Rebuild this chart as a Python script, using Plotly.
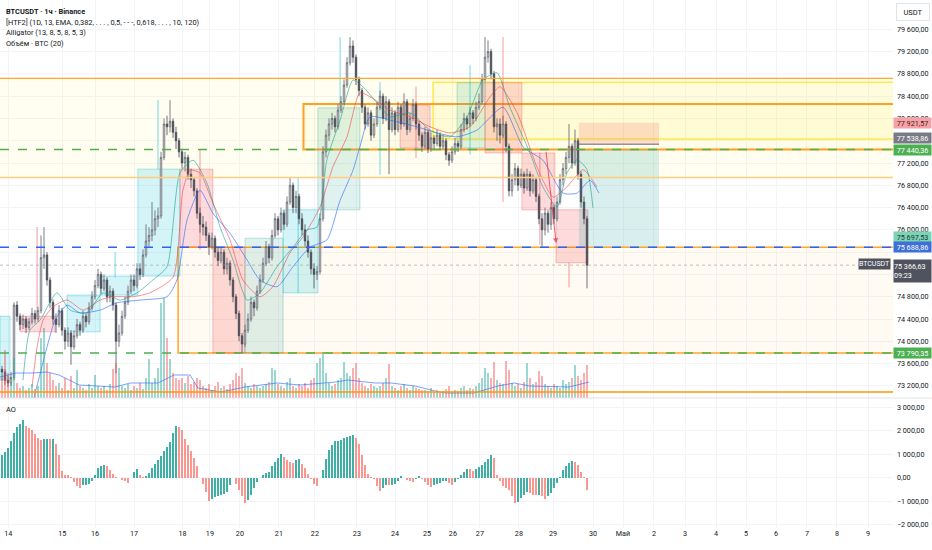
import plotly.graph_objects as go

# ---------------- data ----------------
first_open = 73500
closes = [
    73450, 73300, 73250, 73350, 74650, 74450, 74300, 74400, 74250, 74350,
    74500, 74400, 74550, 75500, 75550, 75100, 74700, 74400, 74300, 74550,
    74200, 74000, 74150, 73900, 74100, 74300, 74200, 74450, 74350, 74600,
    74800, 75000, 75200, 74950, 75100, 74800, 74900, 74650, 74000, 74150,
    74450, 74700, 74900, 75100, 75000, 75300, 75200, 75550, 75800, 75900,
    76000, 76200, 76250, 77300, 77900, 77850, 77950, 77750, 77600, 77400,
    77200, 77300, 77000, 76900, 76700, 76300, 76100, 76050, 75900, 75700,
    75850, 75600, 75450, 75600, 75300, 75400, 75100, 74800, 74500, 74100,
    73950, 74200, 74400, 74700, 74600, 74900, 75100, 75400, 75700, 75500,
    75900, 76200, 76000, 76300, 76100, 76500, 76800, 76400, 76600, 76200,
    76000, 75800, 75600, 75300, 75200, 75250, 76200, 77400, 77700, 77900,
    78000, 77850, 78150, 78300, 78600, 79000, 79300, 79100, 78700, 78500,
    78200, 77900, 78100, 77700, 77900, 78200, 78400, 78000, 78300, 77800,
    78100, 77800, 78200, 77900, 78300, 77800, 78000, 78250, 77900, 77700,
    77500, 77750, 77450, 77650, 77550, 77700, 77500, 77600, 77350, 77250,
    77400, 77550, 77500, 77800, 78000, 77900, 78100, 78000, 78200, 78300,
    78700, 79100, 79200, 78800, 77850, 77900, 77700, 77900, 77500, 76700,
    76900, 77100, 76800, 77000, 76750, 77000, 76700, 76900, 76600, 76200,
    76000, 76300, 76100, 76400, 76200, 76500, 76900, 77100, 77300, 77500,
    77200, 77600, 77000, 76500, 76200, 75366.63,
]
highs = [
    73560, 73500, 73380, 73450, 74700, 74720, 74500, 74480, 74450, 74420,
    74600, 74560, 74620, 75900, 76050, 75600, 75150, 74750, 74500, 74650,
    74600, 74250, 74250, 74200, 74200, 74400, 74350, 74550, 74500, 74700,
    74900, 75100, 75300, 75250, 75200, 75150, 75000, 74950, 74700, 74300,
    74550, 74800, 75000, 75200, 75200, 75400, 75400, 75650, 76100, 76050,
    76500, 76350, 76400, 77400, 78000, 78050, 78330, 78000, 77850, 77650,
    77450, 77400, 77350, 77100, 76950, 76750, 76400, 76250, 76150, 75950,
    75950, 75900, 75700, 75700, 75650, 75500, 75450, 75150, 74850, 74550,
    74150, 74300, 74500, 74800, 74750, 75000, 75200, 75500, 75800, 75750,
    76000, 76300, 76250, 76400, 76350, 76600, 76930, 76850, 76700, 76650,
    76300, 76100, 75900, 75650, 75400, 75350, 76300, 77500, 77800, 78000,
    78100, 78050, 78250, 78400, 78700, 79100, 79460, 79400, 79150, 78750,
    78550, 78250, 78200, 78150, 78000, 78300, 78500, 78450, 78400, 78350,
    78200, 78150, 78300, 78250, 78450, 78350, 78100, 78350, 78300, 77950,
    77750, 77850, 77800, 77750, 77700, 77800, 77750, 77700, 77650, 77400,
    77500, 77650, 77600, 77900, 78100, 78050, 78200, 78150, 78300, 78450,
    78800, 79460, 79400, 79250, 78850, 78000, 78000, 78050, 77950, 77550,
    77000, 77200, 77150, 77100, 77050, 77100, 77050, 77000, 76950, 76650,
    76300, 76400, 76350, 76500, 76450, 76600, 77000, 77200, 77400, 77900,
    77550, 77800, 77650, 77050, 76600, 76250,
]
lows = [
    73300, 73220, 73180, 73200, 73300, 74350, 74200, 74220, 74150, 74200,
    74300, 74320, 74350, 74500, 75300, 75000, 74600, 74300, 74150, 74250,
    74100, 73850, 73900, 73580, 73850, 74050, 74100, 74150, 74250, 74300,
    74550, 74750, 74950, 74850, 74900, 74700, 74700, 74550, 73430, 73900,
    74100, 74400, 74650, 74850, 74900, 74950, 75100, 75150, 75500, 75700,
    75800, 75900, 76050, 76200, 77250, 77700, 77750, 77650, 77450, 77300,
    77100, 77050, 76900, 76750, 76600, 76200, 75950, 75900, 75800, 75550,
    75650, 75500, 75350, 75400, 75200, 75200, 75000, 74700, 74400, 74000,
    73790, 73900, 74150, 74350, 74450, 74550, 74850, 75050, 75350, 75400,
    75450, 75850, 75900, 75950, 76000, 76050, 76450, 76300, 76300, 76100,
    75900, 75700, 75500, 75200, 74950, 75100, 75200, 76150, 77300, 77600,
    77800, 77750, 77800, 78100, 78250, 78550, 78950, 79000, 78600, 78400,
    78100, 77800, 77850, 77600, 77650, 77850, 78150, 77900, 77950, 77000,
    77750, 77700, 77750, 77800, 77850, 77700, 77750, 77950, 77800, 77600,
    77400, 77450, 77380, 77400, 77450, 77500, 77450, 77450, 77250, 77150,
    77200, 77350, 77400, 77450, 77750, 77800, 77850, 77900, 77950, 78150,
    78250, 78650, 79000, 78700, 77750, 77600, 77550, 77650, 77400, 76600,
    76600, 76800, 76700, 76750, 76650, 76700, 76600, 76650, 76500, 76100,
    75700, 75900, 75950, 76000, 76100, 76150, 76450, 76800, 77000, 77200,
    77100, 77150, 76900, 76400, 76100, 74950,
]
volumes = [
    400, 960, 500, 300, 800, 300, 200, 240, 160, 200, 280, 180, 240,
    1200, 1400, 700, 500, 360, 240, 300, 200, 400, 160, 440, 200,
    560, 240, 200, 160, 280, 200, 460, 240, 200, 240, 160, 280, 580, 700, 600, 240,
    200, 280, 160, 240, 200, 300, 180, 400,
    780, 300, 400, 600, 1900, 2000, 1200, 780, 500, 400,
    360, 400, 300, 440, 280, 320, 400, 360,
    240, 200, 280, 160, 240, 320, 200, 240, 180, 280,
    360, 500, 440, 600, 300, 240, 200, 280, 240, 200,
    240, 280, 320, 600, 560, 280, 240, 200, 320, 400, 240, 200, 280,
    240, 300, 200, 360, 400, 700, 800, 920, 500, 300, 240, 280, 360,
    400, 720, 500, 440, 600, 700, 400, 300, 240, 200, 280, 240, 200,
    240, 300, 400, 680, 240, 200, 160, 240, 280, 200, 160, 240, 200, 180, 160,
    160, 140, 200, 120, 160, 100, 140, 180, 240, 120, 160, 140, 200, 240, 160, 200, 180, 240, 300, 400,
    600, 500, 400, 720, 360, 300, 280, 740, 560, 300, 240, 280, 200, 320, 700,
    400, 280, 320, 540, 440, 280, 240, 200, 280, 240, 200, 360, 280, 320, 400, 660, 440, 360, 500, 660,
]
vol_ma_x = [-0.67, 4.7, 10, 15, 19, 25.7, 37.7, 42.7, 52, 57.3, 62.7, 65.3, 73, 81, 91.7,
            99.3, 111.3, 115.3, 124.3, 129.7, 137.7, 145.7, 148.3, 157.3, 165.3, 170.7,
            176, 183.7, 189, 195.7]
vol_ma_y = [420, 500, 500, 520, 460, 260, 220, 300, 300, 460, 460, 200, 120, 220, 300,
            260, 320, 360, 300, 300, 240, 120, 100, 100, 240, 300, 240, 220, 220, 320]

ao = [
    950, 1080, 1260, 1580, 1900, 2150, 2290, 2450, 2190, 2120,
    2040, 1860, 1690, 1620, 1660, 1670, 1650, 1660, 1450, 970,
    300, 110, 100, 40, -180, -350, -450, -310, -300, -250,
    -150, 110, 400, 500, 530, 480, 350, 140, 50, -30,
    -90, -140, -240, -30, 250, 380, 110, 20, 80, 200,
    400, 580, 760, 920, 1120, 1300, 1540, 1900, 2220, 2180,
    2040, 1660, 1400, 1120, 860, 520, 0, -250, -600, -1000,
    -900, -810, -770, -740, -680, -600, -300, -30, -250, -520,
    -800, -1100, -950, -740, -450, -170, -30, 110, 190, 260,
    480, 690, 850, 1000, 880, 760, 670, 630, 740, 780,
    580, 420, 150, -60, -250, -360, 0, 350, 800, 1180,
    1400, 1560, 1580, 1620, 1680, 1750, 1790, 1830, 1700, 1450,
    970, 550, 140, 40, -60, -350, -580, -420, -300, -330,
    -320, -280, -150, 90, -20, -100, -140, -170, -40, 90,
    -60, -200, -300, -390, -330, -270, -220, -150, -120, -240,
    -300, -180, -50, 100, 250, 380, 360, 300, 370, 450,
    550, 680, 800, 950, 860, 100, -150, -350, -450, -530,
    -800, -1100, -1050, -850, -750, -620, -650, -720, -740, -740,
    -800, -890, -800, -670, -450, -240, 50, 330, 480, 610,
    700, 680, 560, 260, 40, -520,
]

jaw_x = [10.5, 14.3, 17.7, 21.7, 26, 32.7, 38.3, 46, 55, 58.3, 61.7, 66, 70.3, 76, 81.7, 86,
         91.7, 97, 102.7, 108.3, 112.7, 117, 119.3, 122.7, 129.3, 138.3, 145, 151.7, 158.3,
         167, 173.7, 180.3, 187, 191.7, 196, 199]
jaw_y = [72950, 73750, 74380, 74650, 74510, 74560, 74690, 74740, 74800, 75100, 76180, 76710,
         76300, 75940, 75460, 75100, 74980, 75340, 75690, 75820, 76530, 77070, 77490, 78030,
         77970, 77850, 77740, 77670, 77790, 78200, 77490, 77250, 76660, 76660, 76890, 76660]
teeth_x = [10, 11.7, 13.7, 17, 21.7, 27, 32.7, 37, 43.7, 49.3, 57, 60.3, 62.7, 66, 70.3, 76,
           80.3, 86, 90.3, 96, 100.3, 106, 110.3, 115, 119.3, 122.7, 129.3, 136, 142.7, 149.3,
           156, 162.7, 166, 171.7, 178.3, 183.7, 188.3, 193.7, 198.3]
teeth_y = [73180, 73900, 74380, 74620, 74740, 74560, 74740, 74800, 74800, 74870, 75150, 76710,
           77070, 77020, 76480, 75820, 75100, 74800, 74980, 75590, 75870, 76410, 77130, 77670,
           78460, 78390, 78150, 78030, 77850, 77740, 77850, 78390, 78570, 78100, 77130, 76590,
           76770, 77080, 76770]
lips_x = [7, 9.3, 12.7, 18.3, 22.7, 28.3, 33.7, 39.3, 45, 50.3, 55, 59.3, 63.7, 68.3, 72.7, 77,
          81.7, 86, 91.7, 97, 101.7, 105, 108.3, 112.7, 117, 120.3, 125, 129.3, 136, 142.7,
          149.3, 155, 160.3, 165, 169.3, 176, 180.3, 185, 188.3, 191.7, 195, 197]
lips_y = [73300, 74200, 74380, 74870, 74560, 74510, 74870, 74740, 74870, 75100, 75340, 77020,
          77250, 76840, 76050, 75460, 74740, 74870, 75340, 75690, 76000, 76050, 77260, 77970,
          78690, 78570, 78280, 78030, 78100, 77790, 77670, 78030, 78690, 78820, 78200, 77380,
          76770, 76410, 77020, 77260, 77080, 76390]

tick_pos = [2.1, 20.1, 31, 44, 60.2, 69.3, 79.3, 92.3, 104.3, 118.3, 131, 141.7, 150.3, 159.3,
            172.3, 183.7, 197, 207, 217.3, 227.7, 238, 248, 258, 268.3, 278.3, 288.7]
tick_text = ["14", "15", "16", "17", "18", "19", "20", "21", "22", "23", "24", "25", "26",
             "27", "28", "29", "30", "Май", "2", "3", "4", "5", "6", "7", "8", "9"]
price_ticks = [73200, 73600, 74000, 74400, 74800, 75200, 75600, 76000, 76400, 76800,
               77200, 77600, 78000, 78400, 78800, 79200, 79600]
hidden_ticks = [75200, 75600, 77600]   # covered by price labels in the reference
ao_ticks = [-2000, -1000, 0, 1000, 2000, 3000]

# HTF candle boxes: x0, x1 (bar index), top price, bottom price, kind
htf_boxes = [
    (-0.67, 2.67, 74450, 73300, "up"),
    (6, 17.7, 74450, 74170, "dn"),
    (21.7, 32.7, 74830, 74170, "up"),
    (32.7, 45.3, 75170, 74830, "up"),
    (45.3, 59.3, 77090, 75170, "up"),
    (59.3, 70.3, 77090, 75690, "dn"),
    (70.3, 81, 75690, 73790, "dn"),
    (81, 93.7, 75850, 73790, "ug"),
    (93.7, 105.3, 76360, 74870, "up"),
    (105.3, 119.3, 78190, 76360, "ug"),
    (132.7, 142.7, 78240, 77470, "dn"),
    (151.7, 161, 78640, 77470, "ug"),
    (161, 173.3, 78640, 77380, "dn"),
    (173.3, 184.3, 77380, 76360, "dn"),
    (184.7, 195.3, 76360, 75410, "dn"),
]
htf_wicks = [
    (11.7, 76050, 74450, "dn"), (37.7, 75600, 75150, "up"), (52, 78330, 77090, "up"),
    (66, 77440, 75640, "dn"), (98.7, 76930, 74870, "up"), (112.7, 79460, 78190, "up"),
    (126, 78650, 76990, "up"), (138, 78570, 77290, "dn"), (156, 78960, 77350, "up"),
    (167, 79460, 76500, "dn"), (179.3, 77380, 75730, "dn"), (189, 75410, 74970, "dn"),
]

zone_top, zone_bot = 78720, 76940
yellow_box = (143.7, 78650, 77630)
orange_box = (100.5, 78260, 77440.36)
lower_box = (58.7, 75688.86, 73790.35)
bottom_line = 73090
proj_x = (192.3, 219)
proj_tp = (77921.57, 77538.86)
proj_teal = (77440.36, 75697.53)
last_price = 75366.63
last_time = "09:23"

levels = [77921.57, 77538.86, 77440.36, 75697.53, 75688.86, 73790.35]
level_bg = ["#f7a1a6", "#787b86", "#4caf50", "#7dd3b5", "#3d6fd9", "#4caf50"]
level_fg = ["#3b2326", "#ffffff", "#ffffff", "#173a30", "#ffffff", "#ffffff"]
level_shift = [0, 6, 0, 10, 0, 0]

legend_lines = [
    "<b>BTCUSDT · 1ч · Binance</b>",
    "[HTF2] (1D, 13, EMA, 0,382, . . . , 0,5, - - -, 0,618, . . . , 10, 120)",
    "Alligator (13, 8, 5, 8, 5, 3)",
    "Объём · BTC (20)",
]

# ---------------- figure ----------------
FONT = "Roboto, Liberation Sans, sans-serif"
TXT = "#131722"
GRID = "#f3f4f7"
XR = [-0.667, 297]
PR = [72982, 80126]
AR = [-2150, 3406]
SPLIT = 0.2462

def fmt(v):
    return f"{v:,.2f}".replace(",", " ").replace(".", ",").replace("-", "−")

idx = list(range(len(closes)))
opens = [first_open] + closes[:-1]

fig = go.Figure()

vcol = ["rgba(38,166,154,0.45)" if c >= o else "rgba(239,83,80,0.45)" for o, c in zip(opens, closes)]
fig.add_trace(go.Bar(x=idx, y=volumes, marker=dict(color=vcol, line=dict(width=0)),
                     width=0.6, xaxis="x", yaxis="y3", hoverinfo="skip"))
fig.add_trace(go.Scatter(x=vol_ma_x, y=vol_ma_y, mode="lines", xaxis="x", yaxis="y3",
                         line=dict(color="rgba(41,98,255,0.6)", width=1), hoverinfo="skip"))

fig.add_trace(go.Candlestick(
    x=idx, open=opens, high=highs, low=lows, close=closes, xaxis="x", yaxis="y",
    increasing=dict(line=dict(color="#5d606b", width=0.8), fillcolor="#ffffff"),
    decreasing=dict(line=dict(color="#4a4d57", width=0.8), fillcolor="#3a3d47"),
    whiskerwidth=0, hoverinfo="skip"))

for xs, ys, col in [(jaw_x, jaw_y, "rgba(41,98,255,0.6)"),
                    (teeth_x, teeth_y, "rgba(242,54,69,0.55)"),
                    (lips_x, lips_y, "rgba(8,153,129,0.55)")]:
    fig.add_trace(go.Scatter(x=xs, y=ys, mode="lines", xaxis="x", yaxis="y",
                             line=dict(color=col, width=1, shape="spline", smoothing=0.6),
                             hoverinfo="skip"))

aocol = []
for i, v in enumerate(ao):
    rising = i == 0 or v >= ao[i - 1]
    aocol.append("rgba(0,150,136,0.75)" if rising else "rgba(244,67,54,0.55)")
fig.add_trace(go.Bar(x=idx, y=ao, marker=dict(color=aocol, line=dict(width=0)), width=0.75,
                     xaxis="x2", yaxis="y2", hoverinfo="skip"))

shapes = []
def rect(x0, x1, y0, y1, fill, line=None, lw=0, layer="between", dash=None):
    d = dict(type="rect", xref="x", yref="y", x0=x0, x1=x1, y0=y0, y1=y1,
             fillcolor=fill, layer=layer, line=dict(width=lw, color=line or "rgba(0,0,0,0)"))
    if dash:
        d["line"]["dash"] = dash
    shapes.append(d)

def hline(y, x0, x1, color, width=1, dash=None, layer="above"):
    d = dict(type="line", xref="x", yref="y", x0=x0, x1=x1, y0=y, y1=y, layer=layer,
             line=dict(color=color, width=width))
    if dash:
        d["line"]["dash"] = dash
    shapes.append(d)

# zones
rect(XR[0], XR[1], zone_top, zone_bot, "rgba(255,235,59,0.07)")
rect(yellow_box[0], XR[1] + 5, yellow_box[1], yellow_box[2], "rgba(255,235,59,0.10)", "#ffe94d", 1.5)
rect(orange_box[0], XR[1] + 5, orange_box[1], orange_box[2], "rgba(255,235,59,0.05)", "#ffa024", 2)
rect(lower_box[0], XR[1] + 5, lower_box[1], lower_box[2], "rgba(255,167,38,0.06)", "#ffa726", 1.5)

box_fill = {"up": "rgba(0,188,212,0.17)", "ug": "rgba(38,166,154,0.15)", "dn": "rgba(242,54,69,0.18)"}
box_line = {"up": "rgba(0,188,212,0.35)", "ug": "rgba(38,166,154,0.3)", "dn": "rgba(242,54,69,0.3)"}
wick_col = {"up": "rgba(0,188,212,0.55)", "ug": "rgba(38,166,154,0.55)", "dn": "rgba(242,54,69,0.5)"}
for x0, x1, t, b, k in htf_boxes:
    rect(x0, x1, t, b, box_fill[k], box_line[k], 1)
for x, t, b, k in htf_wicks:
    shapes.append(dict(type="line", xref="x", yref="y", x0=x, x1=x, y0=t, y1=b, layer="between",
                       line=dict(color=wick_col[k], width=1)))

rect(proj_x[0], proj_x[1], proj_tp[0], proj_tp[1], "rgba(242,120,100,0.22)")
rect(proj_x[0], proj_x[1], proj_teal[0], proj_teal[1], "rgba(38,166,154,0.18)")
hline(proj_tp[1], proj_x[0], proj_x[1], "rgba(120,123,134,0.8)", 1.5)

# horizontal levels
hline(zone_top, XR[0], XR[1], "#ffa726", 1.3)
hline(zone_bot, XR[0], XR[1], "#ffcc80", 1.5)
hline(bottom_line, XR[0], XR[1], "#ff9800", 1.5)
hline(last_price, XR[0], XR[1], "rgba(149,152,161,0.6)", 1, "dot")
hline(77440.36, XR[0], XR[1], "#4caf50", 1.5, "dash")
hline(75688.86, XR[0], XR[1], "#2962ff", 1.5, "dash")
hline(73790.35, XR[0], XR[1], "#4caf50", 1.5, "dash")

# pane separator
shapes.append(dict(type="line", xref="paper", yref="paper", x0=0, x1=1.05, y0=SPLIT, y1=SPLIT,
                   line=dict(color="#dfe2e8", width=1)))

annotations = []
for k, s in enumerate(legend_lines):
    annotations.append(dict(xref="paper", yref="paper", x=0, y=1, xanchor="left", yanchor="middle",
                            xshift=4, yshift=-(11.5 + 10.6 * k), text=s, showarrow=False,
                            font=dict(family=FONT, size=7.4, color=TXT)))
annotations.append(dict(xref="paper", yref="paper", x=0, y=SPLIT, xanchor="left", yanchor="middle",
                        xshift=4, yshift=-11, text="AO", showarrow=False,
                        font=dict(family=FONT, size=7.4, color=TXT)))
annotations.append(dict(xref="paper", yref="paper", x=1, y=1, xanchor="left", yanchor="top",
                        xshift=3, yshift=-3, text="USDT", showarrow=False, width=30, height=14,
                        bordercolor="#e0e3eb", borderwidth=1, borderpad=1, bgcolor="#ffffff",
                        font=dict(family=FONT, size=7.5, color=TXT)))
for p, bg, fg, sh in zip(levels, level_bg, level_fg, level_shift):
    annotations.append(dict(xref="paper", yref="y", x=1, y=p, xanchor="left", yanchor="middle",
                            xshift=0, yshift=sh, text=fmt(p), showarrow=False, width=37, height=10,
                            bgcolor=bg, borderpad=0, font=dict(family=FONT, size=7.2, color=fg)))
annotations.append(dict(xref="paper", yref="y", x=1, y=last_price, xanchor="left", yanchor="top",
                        yshift=6, text=fmt(last_price) + "<br>" + last_time, showarrow=False,
                        width=37, height=22, align="left", bgcolor="#50535e", borderpad=0,
                        font=dict(family=FONT, size=7.2, color="#ffffff")))
annotations.append(dict(xref="paper", yref="y", x=1, y=last_price, xanchor="right", yanchor="middle",
                        xshift=-2, yshift=1, text="BTCUSDT", showarrow=False, width=31, height=10,
                        bgcolor="#50535e", borderpad=0, font=dict(family=FONT, size=7, color="#ffffff")))
annotations.append(dict(xref="x", yref="y", x=184.7, y=75760, ax=181.3, ay=77430, axref="x", ayref="y",
                        text="", showarrow=True, arrowhead=2, arrowsize=1, arrowwidth=1,
                        arrowcolor="rgba(242,54,69,0.8)"))

price_text = ["" if v in hidden_ticks else fmt(v) for v in price_ticks]
ao_text = [fmt(v) for v in ao_ticks]

axfont = dict(family=FONT, size=7.2, color=TXT)
fig.update_layout(
    width=932, height=550, margin=dict(l=0, r=39, t=0, b=22),
    paper_bgcolor="#ffffff", plot_bgcolor="#ffffff", showlegend=False,
    shapes=shapes, annotations=annotations, hovermode=False,
    xaxis=dict(domain=[0, 1], range=XR, anchor="y", tickvals=tick_pos, showticklabels=False,
               showgrid=True, gridcolor=GRID, zeroline=False, rangeslider=dict(visible=False),
               ticks=""),
    xaxis2=dict(domain=[0, 1], range=XR, anchor="y2", tickvals=tick_pos, ticktext=tick_text,
                showgrid=True, gridcolor=GRID, zeroline=False, ticks="", tickfont=axfont),
    yaxis=dict(domain=[SPLIT, 1], range=PR, anchor="x", side="right", tickvals=price_ticks,
               ticktext=price_text, showgrid=True, gridcolor=GRID, zeroline=False, ticks="",
               tickfont=axfont, ticklabelstandoff=3),
    yaxis2=dict(domain=[0, SPLIT], range=AR, anchor="x2", side="right", tickvals=ao_ticks,
                ticktext=ao_text, showgrid=True, gridcolor=GRID, zeroline=False, ticks="",
                tickfont=axfont, ticklabelstandoff=3),
    yaxis3=dict(overlaying="y", range=[0, 7960], visible=False),
    bargap=0,
)

fig.write_html("out.html", config={"displayModeBar": False},
               post_script="document.body.style.margin='0px';document.body.style.overflow='hidden';")
